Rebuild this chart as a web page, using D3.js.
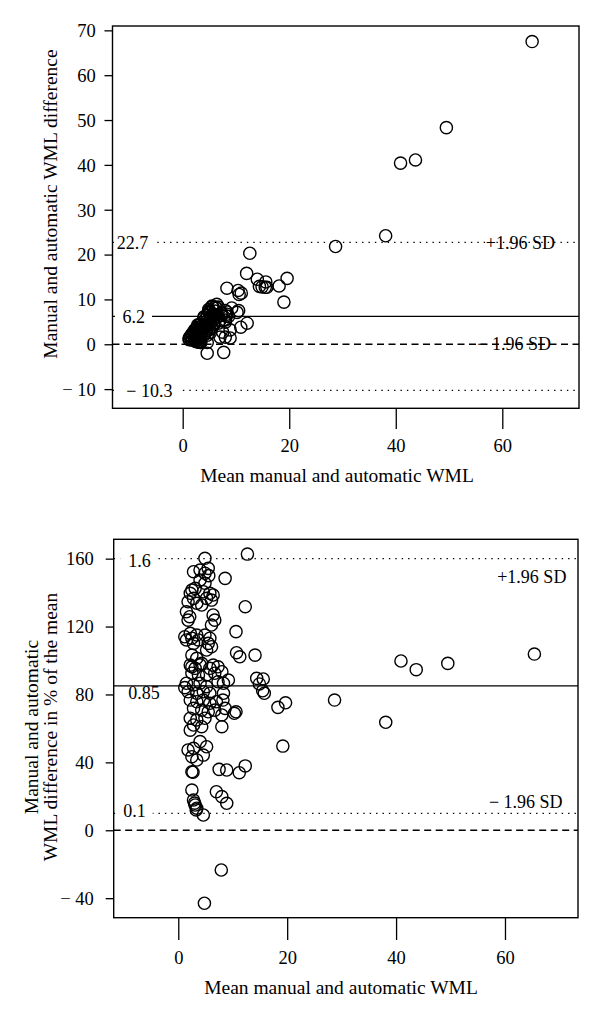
<!DOCTYPE html>
<html><head><meta charset="utf-8">
<script src="https://cdn.jsdelivr.net/npm/d3@7"></script>
<style>
body{margin:0;background:#fff}
text{font-family:"Liberation Serif","Times New Roman",serif;fill:#000}
</style>
</head><body>
<svg id="c" width="600" height="1020"></svg>
<script>
// ---- data: top panel (mean of manual & automatic WML, difference) ----
const topMean = [65.6,49.5,43.7,40.9,38.1,28.7,19.6,18.1,19.0,15.8,15.5,14.9,15.6,14.4,14.0,12.6,12.0,10.4,10.6,11.0,10.5,10.2,12.1,10.9,8.9,7.5,7.7,4.6,8.3,
4.9,2.8,4.0,4.9,5.5,
4.0,4.9,3.1,2.2,2.8,1.8,2.5,4.6,5.8,6.4,5.2,6.1,3.4,4.3,6.4,1.5,2.1,1.8,6.1,6.7,2.2,1.2,1.5,2.5,3.4,2.8,3.7,4.9,5.8,5.5,6.1,5.2,2.5,3.4,4.3,2.2,3.1,6.4,5.8,2.5,4.0,
7.3,2.5,3.7,5.2,6.7,8.0,7.3,8.3,9.2,8.3,1.5,2.8,4.0,5.2,1.8,3.4,4.6,5.8,2.2,3.4,4.6,5.8,7.0,2.8,4.3,5.5,6.7,8.6,8.0,8.0,2.2,3.4,4.9,2.8,4.3,2.2,1.8,2.8,2.5,3.4,4.6,5.2,4.0,2.5,2.5,2.8,3.1,3.4,4.6,7.0,8.0,8.9,1.2,
2.7,3.0,3.3,8.2,5.6];
const topDiff = [67.5,48.3,41.1,40.4,24.2,21.8,14.7,13.0,9.4,12.7,12.7,12.8,13.9,12.9,14.5,20.3,15.8,12.0,11.1,11.4,7.5,7.1,4.7,3.8,3.2,2.7,-1.8,-2.0,12.5,
7.8,4.3,6.1,7.4,8.5,
5.9,7.1,4.4,3.1,3.8,2.4,3.5,6.5,8.1,8.9,7.1,8.3,4.5,5.7,8.1,1.9,2.6,2.2,7.4,8.3,2.6,1.4,1.7,2.8,3.9,3.1,4.1,5.6,6.6,6.1,6.6,5.5,2.6,3.4,4.2,2.1,3.0,6.2,5.5,2.4,3.9,
7.0,2.3,3.4,4.8,6.2,7.5,6.4,7.2,8.1,6.7,1.3,2.4,3.5,4.4,1.5,2.7,3.8,4.7,1.7,2.6,3.5,4.3,5.3,2.0,3.0,3.8,4.7,6.2,5.4,4.9,1.5,2.2,3.2,1.7,2.6,1.3,0.9,1.4,1.1,1.4,2.0,2.6,2.1,0.9,0.6,0.5,0.5,0.4,0.4,1.6,1.6,1.4,1.0,
0.9,0.5,0.4,6.3,8.4];

// ---- data: bottom panel (mean, difference in % of the mean) ----
const botMean = [65.4,49.5,43.7,40.9,38.1,28.7,19.7,18.3,19.2,15.8,15.5,14.9,15.6,14.4,14.1,12.7,12.3,10.6,10.7,11.3,10.6,10.3,12.3,11.2,8.9,7.5,7.9,4.8,8.6,
4.9,2.8,4.0,4.9,5.5,
4.0,4.9,3.1,2.2,2.8,1.8,2.5,4.6,5.8,6.4,5.2,6.1,3.4,4.3,6.4,1.5,2.1,1.8,6.1,6.7,2.2,1.2,1.5,2.5,3.4,2.8,3.7,4.9,5.8,5.5,6.1,5.2,2.5,3.4,4.3,2.2,3.1,6.4,5.8,2.5,4.0,
7.3,2.5,3.7,5.2,6.7,8.0,7.3,8.3,9.2,8.3,1.5,2.8,4.0,5.2,1.8,3.4,4.6,5.8,2.2,3.4,4.6,5.8,7.0,2.8,4.3,5.5,6.7,8.6,8.0,8.0,2.2,3.4,4.9,2.8,4.3,2.2,1.8,2.8,2.5,3.4,4.6,5.2,4.0,2.5,2.5,2.8,3.1,3.4,4.6,7.0,8.0,8.9,1.2,
2.7,3.0,3.3,8.2,5.6];
const botPct = [103.8,98.3,94.6,99.7,63.6,76.7,75.1,72.4,49.6,80.7,82.2,86.2,89.1,89.5,103.2,162.7,131.7,117,104.6,102.2,69.8,68.9,37.9,33.9,35.5,35.9,-23.4,-43,148.4,
160.2,152.3,153.3,151.4,154.3,
147.4,145.5,142.5,139.6,136.6,134.6,141.5,140.5,139.6,138.6,136.6,135.6,133.7,132.7,126.8,128.7,125.8,123.8,120.9,123.8,116,114,112.1,113.1,115,110.1,112.1,115,113.1,110.1,108.1,106.2,103.2,101.3,98.3,97.3,95.4,97.3,95.4,96.3,97.4,
96.3,92.5,91.5,91.5,92.5,93.4,87.5,86.6,88.5,80.7,86.6,85.6,86.6,84.6,81.6,80.7,81.6,80.7,76.7,75.7,76.7,74.8,75.7,71.8,70.8,69.8,70.8,71.8,67.9,61,66,65,66,62,61,59,47.3,48.3,43.3,41.4,44.3,49.2,52.2,34.5,23.7,17.8,14.9,13.0,9.0,22.7,19.8,15.9,84,
34.2,16,12,76.7,150];

// ---- ticks and reference lines ----
const topXTicks = [0,20,40,60];
const topYTicks = [-10,0,10,20,30,40,50,60,70];
const botXTicks = [0,20,40,60];
const botYTicks = [-40,0,40,80,120,160];
const topRefValues = [22.7, 6.2, -10.3, 0];
const topRefLabels = ["22.7", "6.2", "\u2212 10.3", ""];
const botRefValues = [160, 85, 10, 0];
const botRefLabels = ["1.6", "0.85", "0.1", ""];
const refStyles = ["dotted", "solid", "dotted", "dashed"];
const sdLabels = ["+1.96 SD", "\u2212 1.96 SD"];

const xTitle = "Mean manual and automatic WML";
const topYTitle = ["Manual and automatic WML difference"];
const botYTitle = ["Manual and automatic", "WML difference in % of the mean"];

// ---- layout ----
const panels = [
  {mean: topMean, val: topDiff, xDomain: [-13.18, 74.4], yDomain: [-14.28, 70.97],
   left: 112.5, right: 579, top: 26, bottom: 408.3,
   xTicks: topXTicks, yTicks: topYTicks, xTickLen: 20.7, xLabelBase: 452,
   titleX: 337, titleBase: 481.5, yTitle: topYTitle, yTitleBase: [57.4], yTitleCenter: 204,
   yLabelRight: 95.7,
   refs: topRefValues, refLabels: topRefLabels,
   refLabelX: [116.7, 122.5, 126.3], refLabelDy: [0, 0, 0], refBg: [true, true, true],
   sd: [{v: 22.7, endX: 555, dy: 0}, {v: 0, endX: 551, dy: 0}]},
  {mean: botMean, val: botPct, xDomain: [-11.86, 73.41], yDomain: [-51.5, 171.4],
   left: 113.7, right: 578, top: 539.3, bottom: 917.7,
   xTicks: botXTicks, yTicks: botYTicks, xTickLen: 22.3, xLabelBase: 964.5,
   titleX: 341, titleBase: 993.5, yTitle: botYTitle, yTitleBase: [38.3, 57.4], yTitleCenter: 727,
   yLabelRight: 93.8,
   refs: botRefValues, refLabels: botRefLabels,
   refLabelX: [128.2, 128.2, 123.2], refLabelDy: [2, 7, -2], refBg: [true, false, true],
   sd: [{v: 160, endX: 566.4, dy: 18}, {v: 10, endX: 562.6, dy: -11.6}]}
];

const svg = d3.select("#c");
const fmt = d => d < 0 ? "\u2212 " + Math.abs(d) : String(d);
const dashes = {dotted: "1.4,5", solid: null, dashed: "7,4.5"};

panels.forEach(p => {
  const x = d3.scaleLinear().domain(p.xDomain).range([p.left, p.right]);
  const y = d3.scaleLinear().domain(p.yDomain).range([p.bottom, p.top]);
  const g = svg.append("g");

  // reference lines
  p.refs.forEach((v, i) => {
    g.append("line")
      .attr("x1", p.left).attr("x2", p.right)
      .attr("y1", y(v)).attr("y2", y(v))
      .attr("stroke", "#000").attr("stroke-width", 1.3)
      .attr("stroke-dasharray", dashes[refStyles[i]]);
  });

  // left labels of reference lines
  p.refs.forEach((v, i) => {
    const t = p.refLabels[i];
    if (!t) return;
    const lg = g.append("g");
    const tx = lg.append("text")
      .attr("x", p.refLabelX[i]).attr("y", y(v) + p.refLabelDy[i])
      .attr("dy", "0.34em").attr("font-size", 18).text(t);
    if (p.refBg[i]) {
      const bb = tx.node().getBBox();
      const x0 = Math.max(p.left + 2.5, bb.x - 8);
      lg.insert("rect", "text")
        .attr("x", x0).attr("y", y(v) - 3)
        .attr("width", bb.x + bb.width + 7 - x0).attr("height", 6)
        .attr("fill", "#fff");
    }
  });

  // SD labels
  p.sd.forEach((s, i) => {
    g.append("text").attr("x", s.endX).attr("y", y(s.v) + s.dy)
      .attr("dy", "0.34em").attr("text-anchor", "end")
      .attr("font-size", 18).text(sdLabels[i]);
  });

  // points
  g.append("g").selectAll("circle")
    .data(p.mean.map((m, i) => [m, p.val[i]]))
    .join("circle")
    .attr("cx", d => x(d[0])).attr("cy", d => y(d[1]))
    .attr("r", 6.1).attr("fill", "none")
    .attr("stroke", "#000").attr("stroke-width", 1.4);

  // box
  g.append("rect")
    .attr("x", p.left).attr("y", p.top)
    .attr("width", p.right - p.left).attr("height", p.bottom - p.top)
    .attr("fill", "none").attr("stroke", "#000").attr("stroke-width", 1.4);

  // x axis
  const xa = g.append("g").attr("transform", `translate(0,${p.bottom})`)
    .call(d3.axisBottom(x).tickValues(p.xTicks).tickSize(p.xTickLen).tickFormat(fmt));
  xa.select(".domain").remove();
  xa.selectAll("line").attr("stroke-width", 1.3);
  xa.selectAll("text").attr("y", p.xLabelBase - p.bottom).attr("dy", null)
    .attr("font-size", 18.5);
  xa.attr("font-family", null).attr("font-size", null);

  // y axis
  const ya = g.append("g").attr("transform", `translate(${p.left},0)`)
    .call(d3.axisLeft(y).tickValues(p.yTicks).tickSize(8).tickPadding(p.left - 8 - p.yLabelRight).tickFormat(fmt));
  ya.select(".domain").remove();
  ya.selectAll("line").attr("stroke-width", 1.3);
  ya.selectAll("text").attr("font-size", 18.5).attr("dy", "0.34em");
  ya.attr("font-family", null).attr("font-size", null);

  // titles
  g.append("text").attr("x", p.titleX).attr("y", p.titleBase)
    .attr("text-anchor", "middle").attr("font-size", 19.5).text(xTitle);
  p.yTitle.forEach((t, i) => {
    g.append("text")
      .attr("transform", `translate(${p.yTitleBase[i]},${p.yTitleCenter}) rotate(-90)`)
      .attr("text-anchor", "middle").attr("font-size", 19.5).text(t);
  });
});
</script>
</body></html>
